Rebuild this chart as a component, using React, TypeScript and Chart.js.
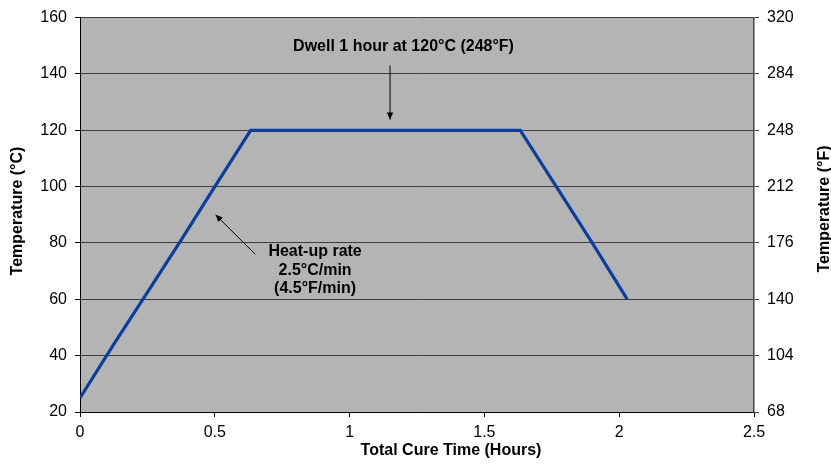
import React, { useEffect, useRef } from "react";
import { Chart, registerables } from "chart.js";

Chart.register(...registerables);

// Data
const hours = [0, 0.125, 0.25, 0.375, 0.5, 0.633, 1.633, 1.8, 1.9, 2.03];
const tempC = [25, 44, 62.5, 81, 100, 120, 120, 95, 80, 60];

// Axes
const xMin = 0;
const xMax = 2.5;
const xStep = 0.5;
const yMinC = 20;
const yMaxC = 160;
const yStepC = 20;
const yMinF = 68;
const yMaxF = 320;
const yStepF = 36;

// Text
const xTitle = "Total Cure Time (Hours)";
const yTitleLeft = "Temperature (°C)";
const yTitleRight = "Temperature (°F)";
const dwellLabel = ["Dwell 1 hour at 120°C (248°F)"];
const dwellArrow = { x: 1.15, yFrom: 143, yTo: 123.8 };
const dwellTextAt = { x: 1.2, y: 149.7 };
const heatLabel = ["Heat-up rate", "2.5°C/min", "(4.5°F/min)"];
const heatArrow = { xFrom: 0.65, yFrom: 76, xTo: 0.503, yTo: 90 };
const heatTextAt = { x: 0.872, y: 76.8 };

const FONT = "'Liberation Sans', Arial, sans-serif";

function drawArrow(ctx: CanvasRenderingContext2D, x1: number, y1: number, x2: number, y2: number) {
  ctx.save();
  ctx.strokeStyle = "#000";
  ctx.fillStyle = "#000";
  ctx.lineWidth = 1;
  ctx.beginPath();
  ctx.moveTo(x1, y1);
  ctx.lineTo(x2, y2);
  ctx.stroke();
  const ang = Math.atan2(y2 - y1, x2 - x1);
  const len = 7;
  const w = 3.2;
  ctx.beginPath();
  ctx.moveTo(x2, y2);
  ctx.lineTo(x2 - len * Math.cos(ang) + w * Math.sin(ang), y2 - len * Math.sin(ang) - w * Math.cos(ang));
  ctx.lineTo(x2 - len * Math.cos(ang) - w * Math.sin(ang), y2 - len * Math.sin(ang) + w * Math.cos(ang));
  ctx.closePath();
  ctx.fill();
  ctx.restore();
}

const decorPlugin = {
  id: "decor",
  beforeDraw(chart: any) {
    const { ctx, chartArea } = chart;
    ctx.save();
    ctx.fillStyle = "#b4b4b4";
    ctx.fillRect(chartArea.left, chartArea.top, chartArea.right - chartArea.left, chartArea.bottom - chartArea.top);
    ctx.restore();
  },
  afterDraw(chart: any) {
    const { ctx } = chart;
    const xs = chart.scales.x;
    const ys = chart.scales.y;
    ctx.save();
    ctx.fillStyle = "#000";
    ctx.font = `bold 16px ${FONT}`;
    ctx.textAlign = "center";
    ctx.textBaseline = "middle";
    // x title
    ctx.fillText(xTitle, 451, 451);
    // left title
    ctx.save();
    ctx.translate(18, 211);
    ctx.rotate(-Math.PI / 2);
    ctx.fillText(yTitleLeft, 0, 0);
    ctx.restore();
    // right title
    ctx.save();
    ctx.translate(825, 209);
    ctx.rotate(-Math.PI / 2);
    ctx.fillText(yTitleRight, 0, 0);
    ctx.restore();

    // dwell annotation
    const dx = xs.getPixelForValue(dwellTextAt.x);
    const dy = ys.getPixelForValue(dwellTextAt.y);
    dwellLabel.forEach((t, i) => ctx.fillText(t, dx, dy + i * 18.5));
    drawArrow(ctx, xs.getPixelForValue(dwellArrow.x), ys.getPixelForValue(dwellArrow.yFrom), xs.getPixelForValue(dwellArrow.x), ys.getPixelForValue(dwellArrow.yTo));

    // heat-up annotation
    const hx = xs.getPixelForValue(heatTextAt.x);
    const hy = ys.getPixelForValue(heatTextAt.y);
    heatLabel.forEach((t, i) => ctx.fillText(t, hx, hy + i * 18.5));
    drawArrow(ctx, xs.getPixelForValue(heatArrow.xFrom), ys.getPixelForValue(heatArrow.yFrom), xs.getPixelForValue(heatArrow.xTo), ys.getPixelForValue(heatArrow.yTo));
    ctx.restore();
  },
};

export default function App() {
  const ref = useRef<HTMLCanvasElement | null>(null);
  useEffect(() => {
    document.body.style.margin = "0";
    const canvas = ref.current!;
    const chart = new Chart(canvas, {
      type: "line",
      data: {
        datasets: [
          {
            data: hours.map((h, i) => ({ x: h, y: tempC[i] })),
            borderColor: "#0a3ea0",
            borderWidth: 3.2,
            pointRadius: 0,
            tension: 0,
            fill: false,
            yAxisID: "y",
          },
        ],
      },
      options: {
        responsive: false,
        animation: false,
        devicePixelRatio: 1,
        layout: { padding: { top: 17.5, left: 0, right: 0, bottom: 0 } },
        plugins: { legend: { display: false }, tooltip: { enabled: false } },
        scales: {
          x: {
            type: "linear",
            min: xMin,
            max: xMax,
            ticks: {
              stepSize: xStep,
              color: "#000",
              font: { family: FONT, size: 16 },
              padding: 6,
              maxRotation: 0,
              callback: (v: any) => String(Number(v)),
            },
            grid: { drawOnChartArea: false, drawTicks: true, tickLength: 5, tickColor: "#000" },
            border: { color: "#000", width: 1 },
            afterFit(scale: any) {
              scale.height = 52;
            },
          },
          y: {
            position: "left",
            min: yMinC,
            max: yMaxC,
            ticks: {
              stepSize: yStepC,
              color: "#000",
              font: { family: FONT, size: 16 },
              padding: 8,
            },
            grid: { color: "#3c3c3c", lineWidth: 1, drawTicks: true, tickLength: 5, tickColor: "#000" },
            border: { color: "#000", width: 1 },
            afterFit(scale: any) {
              scale.width = 80;
            },
          },
          y2: {
            position: "right",
            min: yMinF,
            max: yMaxF,
            ticks: {
              stepSize: yStepF,
              color: "#000",
              font: { family: FONT, size: 16 },
              padding: 8,
            },
            grid: { drawOnChartArea: false, drawTicks: true, tickLength: 5, tickColor: "#444" },
            border: { color: "#444", width: 1.5 },
            afterFit(scale: any) {
              scale.width = 77;
            },
          },
        },
      },
      plugins: [decorPlugin],
    });
    return () => chart.destroy();
  }, []);
  return (
    <div style={{ width: 831, height: 464, background: "#fff" }}>
      <canvas ref={ref} width={831} height={464} />
    </div>
  );
}
